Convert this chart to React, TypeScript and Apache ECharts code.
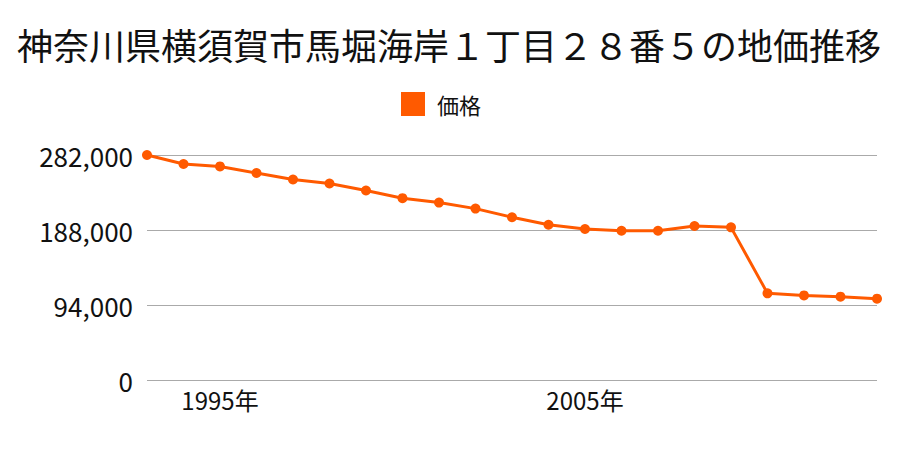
import React, { useEffect, useRef } from "react";
import * as echarts from "echarts";

const titleText = "神奈川県横須賀市馬堀海岸１丁目２８番５の地価推移";
const seriesName = "価格";
const years = [
  "1993", "1994", "1995", "1996", "1997", "1998", "1999", "2000", "2001", "2002",
  "2003", "2004", "2005", "2006", "2007", "2008", "2009", "2010", "2011", "2012", "2013",
];
const prices = [
  282000, 270700, 267700, 259400, 251300, 246300, 237500, 227900, 222400, 214800,
  204000, 194600, 189300, 187100, 187100, 193000, 191300, 108600, 106000, 104400, 101900,
];
const yTicks = [0, 94000, 188000, 282000];

const FONT = "'Noto Sans CJK JP', 'Noto Sans', sans-serif";

export default function App() {
  const ref = useRef<HTMLDivElement>(null);
  useEffect(() => {
    if (!ref.current) return;
    const chart = echarts.init(ref.current, null, { renderer: "svg" });
    chart.setOption({
      animation: false,
      backgroundColor: "#ffffff",
      textStyle: { fontFamily: FONT },
      graphic: [
        {
          type: "text",
          x: 449,
          y: 44,
          style: {
            text: titleText,
            fontSize: 36,
            fontFamily: FONT,
            fill: "#111",
            align: "center",
            verticalAlign: "middle",
          },
        },
      ],
      legend: {
        data: [seriesName],
        top: 87,
        left: 396,
        itemWidth: 24,
        itemHeight: 24,
        icon: "rect",
        textStyle: { fontSize: 22, color: "#111", fontFamily: FONT, padding: [0, 0, 0, 7] },
      },
      grid: { left: 147, right: 23, top: 155, bottom: 70, containLabel: false },
      xAxis: {
        type: "category",
        data: years,
        boundaryGap: false,
        axisLine: { show: false },
        axisTick: { show: false },
        axisLabel: {
          interval: (idx: number, val: string) => Number(val) % 10 === 5,
          formatter: (v: string) => v + "年",
          fontSize: 24,
          color: "#111",
          margin: 7,
          fontFamily: FONT,
        },
        splitLine: { show: false },
      },
      yAxis: {
        type: "value",
        min: yTicks[0],
        max: yTicks[yTicks.length - 1],
        interval: yTicks[1] - yTicks[0],
        axisLine: { show: false },
        axisTick: { show: false },
        axisLabel: {
          fontSize: 26,
          color: "#111",
          margin: 14,
          fontFamily: FONT,
          formatter: (v: number) => v.toLocaleString("en-US"),
        },
        splitLine: { lineStyle: { color: "#aaaaaa", width: 1 } },
      },
      series: [
        {
          name: seriesName,
          type: "line",
          data: prices,
          symbol: "circle",
          symbolSize: 10,
          color: "#ff5a00",
          lineStyle: { width: 3, color: "#ff5a00" },
          itemStyle: { color: "#ff5a00" },
        },
      ],
    });
    return () => chart.dispose();
  }, []);
  return <div ref={ref} style={{ width: 900, height: 450, margin: -8 }} />;
}
